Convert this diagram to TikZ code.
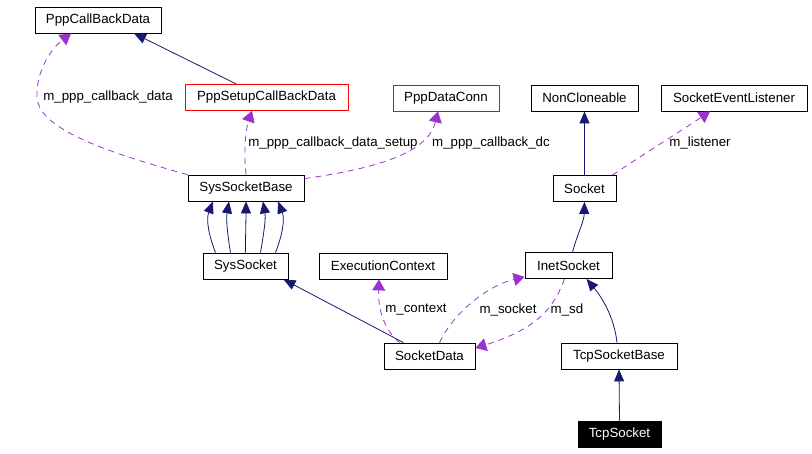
\documentclass[tikz,border=0pt]{standalone}
\usepackage{fontspec}
\setmainfont{Liberation Sans}
\usetikzlibrary{arrows.meta}
\definecolor{Navy}{HTML}{191970}
\definecolor{Orchid}{HTML}{9A32CD}
\tikzset{
  cls/.style={draw=black,line width=0.8pt,fill=white,minimum height=26pt,inner sep=0pt,font=\fontsize{13.3}{15}\selectfont},
  clsred/.style={cls,draw=red},
  clsblack/.style={cls,fill=black,text=white},
  inherit/.style={Navy,line width=0.8pt,-{Triangle[length=12pt,width=10pt]}},
  member/.style={Orchid,line width=0.8pt,dash pattern=on 6pt off 5pt,-{Triangle[length=11pt,width=13pt]}},
  lbl/.style={font=\fontsize{13.3}{15}\selectfont,inner sep=0pt}
}
\begin{document}
\begin{tikzpicture}[x=1pt,y=-1pt]
  \useasboundingbox (0,0) rectangle (812,453);
  % classes
  \node[cls,minimum width=126pt] (PppCallBackData) at (98,20) {PppCallBackData};
  \node[clsred,minimum width=163pt] (PppSetupCallBackData) at (266.5,97.5) {PppSetupCallBackData};
  \node[clsred,minimum width=106pt] (PppDataConn) at (446,98) {PppDataConn};
  \node[cls,minimum width=107pt] (NonCloneable) at (584.5,98) {NonCloneable};
  \node[cls,minimum width=146pt] (SocketEventListener) at (734,98) {SocketEventListener};
  \node[cls,minimum width=116pt] (SysSocketBase) at (246,188) {SysSocketBase};
  \node[cls,minimum width=63pt] (Socket) at (584.5,188.5) {Socket};
  \node[cls,minimum width=85pt] (SysSocket) at (245.5,266) {SysSocket};
  \node[cls,minimum width=128pt] (ExecutionContext) at (383,266) {ExecutionContext};
  \node[cls,minimum width=87pt] (InetSocket) at (568.5,265.5) {InetSocket};
  \node[cls,minimum width=91pt] (SocketData) at (429.5,356) {SocketData};
  \node[cls,minimum width=116pt] (TcpSocketBase) at (619,356) {TcpSocketBase};
  \node[clsblack,minimum width=83pt] (TcpSocket) at (619.5,434) {TcpSocket};
  % inheritance
  \draw[inherit] ([xshift=-30pt]PppSetupCallBackData.north) -- ([xshift=36pt]PppCallBackData.south);
  \draw[inherit] (Socket.north) -- (NonCloneable.south);
  \draw[inherit] ([xshift=4pt]InetSocket.north) .. controls (578,232) and (584,222) .. (Socket.south);
  \foreach \a/\b/\c in {-30/-33/-7, -15/-17/-3, 0/0/0, 15/17/3, 30/32/7}
    \draw[inherit] ([xshift=\a pt]SysSocket.north) .. controls +(\c,-18) and +(\c,18) .. ([xshift=\b pt]SysSocketBase.south);
  \draw[inherit] ([xshift=-26pt]SocketData.north) -- ([xshift=38pt]SysSocket.south);
  \draw[inherit] ([xshift=-2pt]TcpSocketBase.north) .. controls (614,315) and (600,295) .. ([xshift=18pt]InetSocket.south);
  \draw[inherit] (TcpSocket.north) -- (TcpSocketBase.south);
  % members
  \draw[member] (SysSocketBase.north west) .. controls (90,148) and (38,125) .. (37,97)
    .. controls (36,70) and (52,48) .. ([xshift=-27pt]PppCallBackData.south);
  \node[lbl] (lcb) at (108,97) {m\_ppp\_callback\_data};
  \draw[member] (SysSocketBase.north) .. controls (243,145) and (247,125) .. ([xshift=-14.5pt]PppSetupCallBackData.south);
  \node[lbl] (lcbs) at (333,143) {m\_ppp\_callback\_data\_setup};
  \draw[member] ([yshift=-4pt]SysSocketBase.north east) .. controls (380,168) and (428,152) .. ([xshift=-8pt]PppDataConn.south);
  \node[lbl] (lcbdc) at (491,143) {m\_ppp\_callback\_dc};
  \draw[member] ([xshift=-4pt]Socket.north east) .. controls (650,150) and (690,125) .. ([xshift=-24pt]SocketEventListener.south);
  \node[lbl] (llis) at (700,143) {m\_listener};
  \draw[member] ([xshift=-30pt]SocketData.north) .. controls (385,330) and (378,312) .. ([xshift=-4pt]ExecutionContext.south);
  \node[lbl] (lctx) at (416,310) {m\_context};
  \draw[member] ([xshift=10pt]SocketData.north) .. controls (455,310) and (490,285) .. ([yshift=2pt]InetSocket.south west);
  \node[lbl] (lsock) at (508,310) {m\_socket};
  \draw[member] ([xshift=-4pt]InetSocket.south) .. controls (555,305) and (540,328) .. ([yshift=8pt]SocketData.east);
  \node[lbl] (lsd) at (567,310) {m\_sd};
\end{tikzpicture}
\end{document}
